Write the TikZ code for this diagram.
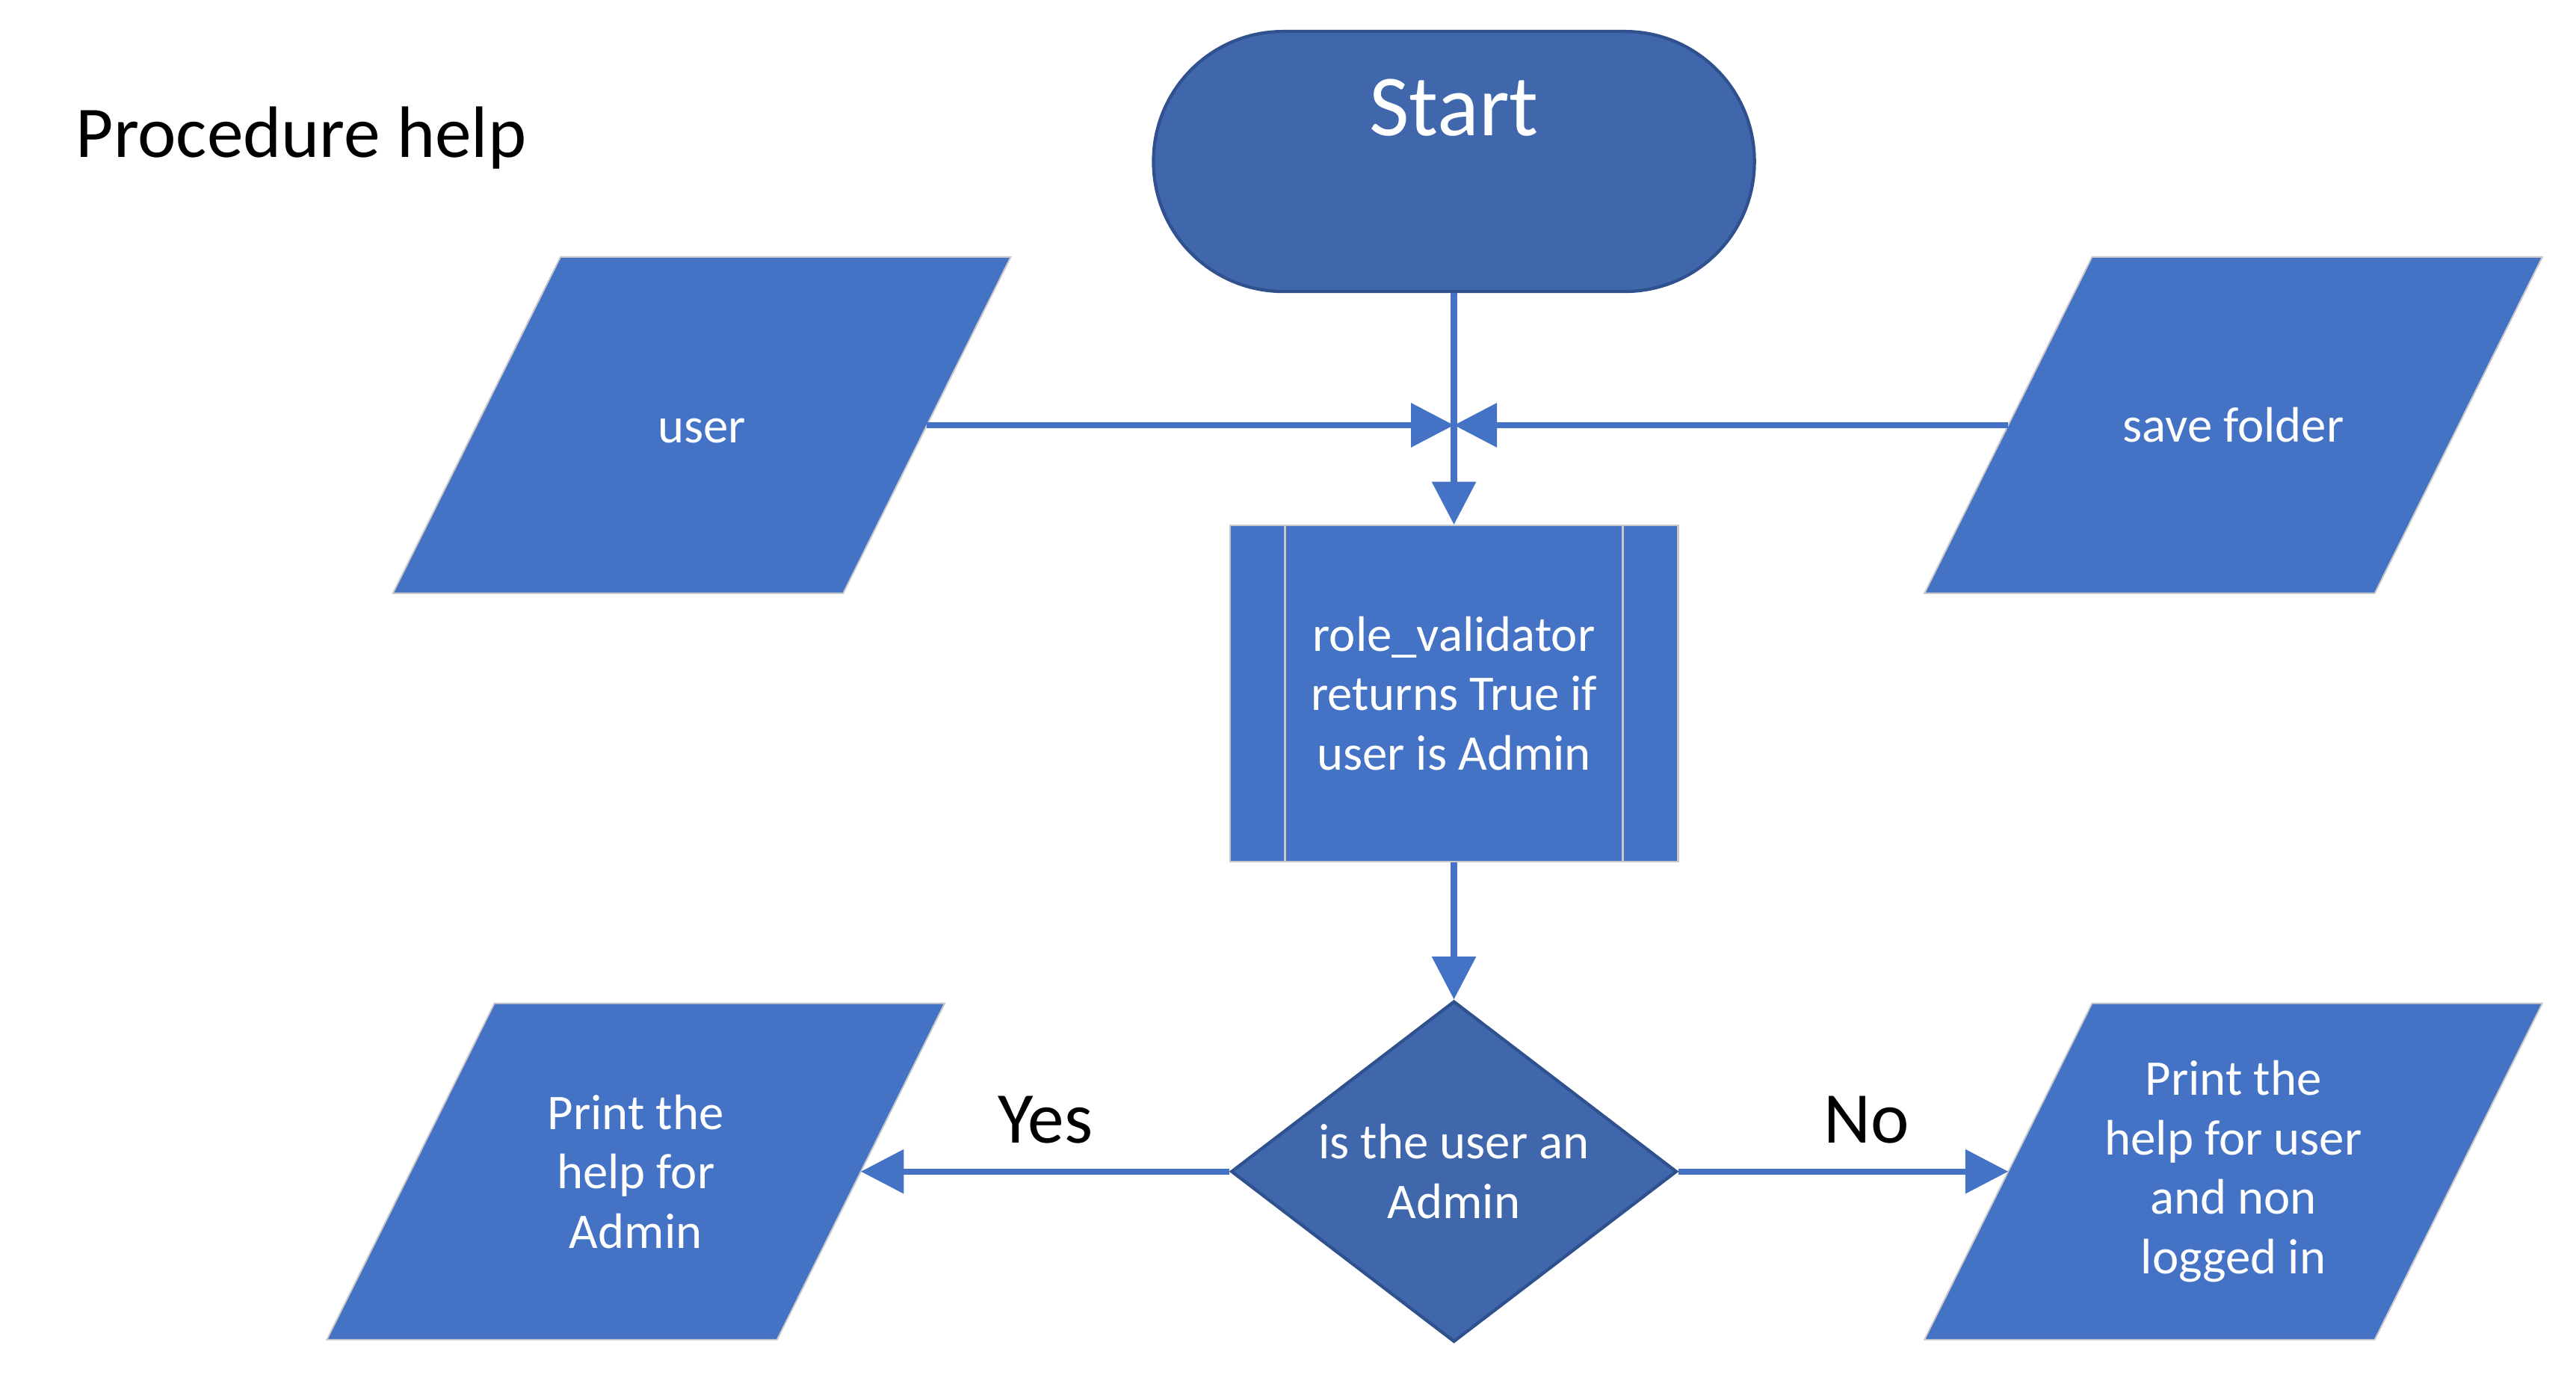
\documentclass[tikz,border=0pt]{standalone}
\usepackage{fontspec}
\setmainfont{Carlito}
\usetikzlibrary{shapes.geometric, arrows.meta}
\definecolor{boxblue}{HTML}{4472C4}
\definecolor{darkblue}{HTML}{4066AC}
\definecolor{edgeblue}{HTML}{2F528F}
\definecolor{edgegray}{HTML}{C8C8C8}
\pgfdeclarelayer{background}
\pgfsetlayers{background,main}
\tikzset{
    body/.style={font=\fontsize{17.2}{20.5}\selectfont, text=white, align=center, inner sep=0pt},
    terminal/.style={rectangle, rounded corners=1.57cm, minimum width=7.28cm, minimum height=3.15cm,
        fill=darkblue, draw=edgeblue, line width=1.1pt, text=white, inner sep=0pt,
        font=\fontsize{30}{36}\selectfont, text height=19pt, text depth=37pt},
    io/.style={body, rectangle, minimum width=5.44cm, minimum height=4.06cm},
    iofill/.style={fill=boxblue, draw=edgegray, line width=0.5pt},
    subproc/.style={body, rectangle, minimum width=5.43cm, minimum height=4.07cm,
        fill=boxblue, draw=edgegray, line width=0.6pt},
    decision/.style={body, diamond, aspect=1.31, minimum width=5.4cm, minimum height=4.13cm,
        fill=darkblue, draw=edgeblue, line width=1.1pt},
    flow/.style={boxblue, line width=2.15pt, -{Triangle[length=0.52cm, width=0.52cm]}},
    lbl/.style={font=\fontsize{25.1}{30}\selectfont, text=black, inner sep=0pt}
}
\begin{document}
\begin{tikzpicture}[x=0.02cm, y=0.02cm]
        \useasboundingbox (0,0) rectangle (1560,832.3);
        \node[lbl, anchor=base west] (title) at (45.7,736.8) {Procedure help};
        \node[terminal] (start) at (880.5,734.5) {Start};
        \node[io, text height=12pt] (user) at (425,574.8) {user};
        \node[io] (save) at (1352.5,574.8) {save folder};
        \coordinate (join) at (880.5,574.8);
        \node[subproc] (check) at (880.5,412.3) {role\_validator\\returns True if\\user is Admin};
        \draw[edgegray, line width=0.6pt] ([xshift=0.68cm]check.north west) -- ([xshift=0.68cm]check.south west);
        \draw[edgegray, line width=0.6pt] ([xshift=-0.68cm]check.north east) -- ([xshift=-0.68cm]check.south east);
        \node[decision] (ask) at (880.5,122.8) {is the user an\\Admin};
        \node[io] (admin) at (385,122.8) {Print the\\help for\\Admin};
        \node[io] (guest) at (1352.5,122.8) {Print the\\help for user\\and non\\logged in};
        % slanted data boxes behind the texts
        \begin{pgfonlayer}{background}
            \foreach \n in {user,save,admin,guest}{
                \filldraw[iofill] ([xshift=1.015cm]\n.north west) -- ([xshift=1.015cm]\n.north east)
                    -- ([xshift=-1.015cm]\n.south east) -- ([xshift=-1.015cm]\n.south west) -- cycle;
            }
        \end{pgfonlayer}
        % connectors
        \draw[flow] (start) -- (check);
        \draw[flow] (user.east) -- (join);
        \draw[flow] (save.west) -- (join);
        \draw[flow] (check) -- (ask);
        \draw[flow] (ask.west) -- (admin.east) node[lbl, midway, above=0.3cm] {Yes};
        \draw[flow] (ask.east) -- (guest.west) node[lbl, pos=0.57, above=0.3cm] {No};
    \end{tikzpicture}
\end{document}
